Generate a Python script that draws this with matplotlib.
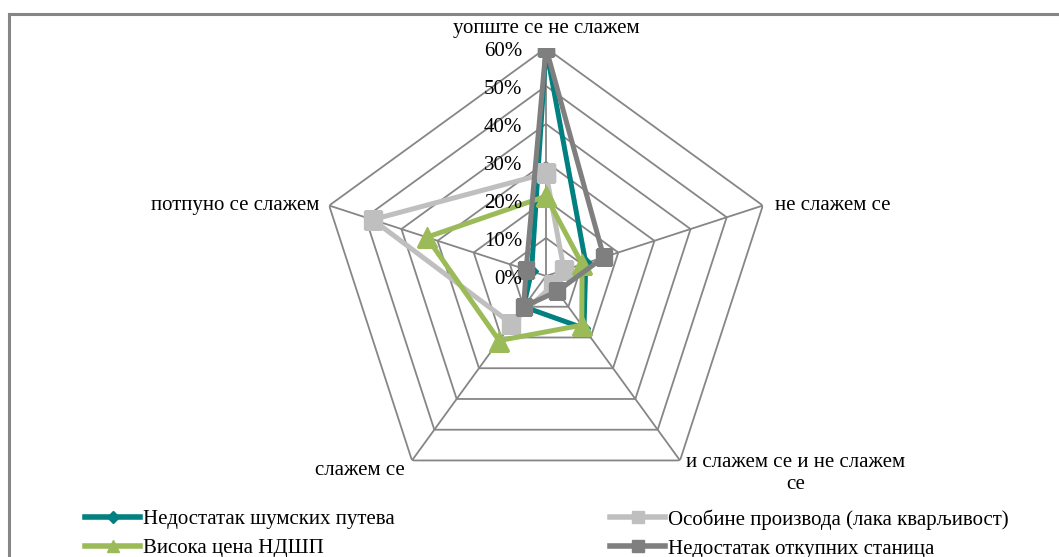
import numpy as np
import matplotlib.pyplot as plt
import matplotlib.transforms as mtransforms
from matplotlib.lines import Line2D

plt.rcParams['font.family'] = ['Liberation Serif', 'DejaVu Serif']

# categories (clockwise from the top)
categories = ['уопште се не слажем', 'не слажем се', 'и слажем се и не слажем\nсе',
              'слажем се', 'потпуно се слажем']

# series values (fraction)
forest_roads = [0.60, 0.11, 0.17, 0.10, 0.04]
product_traits = [0.27, 0.05, 0.03, 0.155, 0.48]
high_price = [0.21, 0.10, 0.16, 0.21, 0.33]
no_stations = [0.60, 0.16, 0.05, 0.10, 0.055]

series_names = ['Недостатак шумских путева', 'Особине производа (лака кварљивост)',
                'Висока цена НДШП', 'Недостатак откупних станица']
rticks = [0, 0.1, 0.2, 0.3, 0.4, 0.5, 0.6]
rtick_labels = ['0%', '10%', '20%', '30%', '40%', '50%', '60%']

W, H = 1059, 557
fig = plt.figure(figsize=(W / 100, H / 100), dpi=100)

# chart frame (left and top edges visible)
fig.add_artist(Line2D([8.5 / W, 8.5 / W], [0, 1 - 14 / H], color='#868686', lw=2.2,
                      transform=fig.transFigure))
fig.add_artist(Line2D([8.5 / W, 1], [1 - 14 / H, 1 - 14 / H], color='#868686', lw=2.2,
                      transform=fig.transFigure))

cx, cy, R = 546, 276, 228
ax = fig.add_axes([(cx - R) / W, (H - cy - R) / H, 2 * R / W, 2 * R / H], projection='polar')
ax.set_theta_zero_location('N')
ax.set_theta_direction(-1)
ax.set_ylim(0, 0.6)
ax.axis('off')

n = len(categories)
theta = np.linspace(0, 2 * np.pi, n, endpoint=False)
theta_c = np.append(theta, theta[0])

grid_c = '#868686'
for r in rticks[1:]:
    ax.plot(theta_c, [r] * (n + 1), color=grid_c, lw=1.3, zorder=1)
for t in theta:
    ax.plot([t, t], [0, 0.6], color=grid_c, lw=1.3, zorder=1)


def closed(v):
    return v + v[:1]


ax.plot(theta_c, closed(forest_roads), color='#008080', lw=3.6, marker='D', ms=6, zorder=3)
ax.plot(theta_c, closed(product_traits), color='#BFBFBF', lw=3.6, marker='s', ms=12.5, zorder=3)
ax.plot(theta_c, closed(high_price), color='#9BBB59', lw=3.6, marker='^', ms=15, zorder=3)
ax.plot(theta_c, closed(no_stations), color='#7F7F7F', lw=3.6, marker='s', ms=11.5, zorder=3)

# radial tick labels
tr = mtransforms.offset_copy(ax.transData, fig=fig, x=-24, y=-3, units='dots')
for r, lab in zip(rticks, rtick_labels):
    ax.text(0, r, lab, transform=tr, ha='right', va='center', fontsize=15, color='#000000')

# category labels
offsets = [(0, 19, 'center'), (12, 0, 'left'), (6, -13, 'left'), (-7, -10, 'right'), (-10, 0, 'right')]
for t, lab, (dx, dy, ha) in zip(theta, categories, offsets):
    trl = mtransforms.offset_copy(ax.transData, fig=fig, x=dx, y=dy, units='dots')
    ax.text(t, 0.6, lab, transform=trl, ha=ha, va='center', fontsize=15,
            multialignment='center', linespacing=1.25)

# legend, two columns
h = [Line2D([], [], color='#008080', lw=4, marker='D', ms=6),
     Line2D([], [], color='#BFBFBF', lw=4, marker='s', ms=8),
     Line2D([], [], color='#9BBB59', lw=4, marker='^', ms=8),
     Line2D([], [], color='#7F7F7F', lw=4, marker='s', ms=8)]
kw = dict(frameon=False, fontsize=15, handlelength=2.65, handletextpad=0.12,
          labelspacing=0.45, borderpad=0, borderaxespad=0, loc='center left')
leg1 = fig.legend([h[0], h[2]], [series_names[0], series_names[2]],
                  bbox_to_anchor=(85 / W, 1 - 534 / H), **kw)
leg2 = fig.legend([h[1], h[3]], [series_names[1], series_names[3]],
                  bbox_to_anchor=(610 / W, 1 - 534 / H), **kw)

fig.savefig('out.png', dpi=100)
